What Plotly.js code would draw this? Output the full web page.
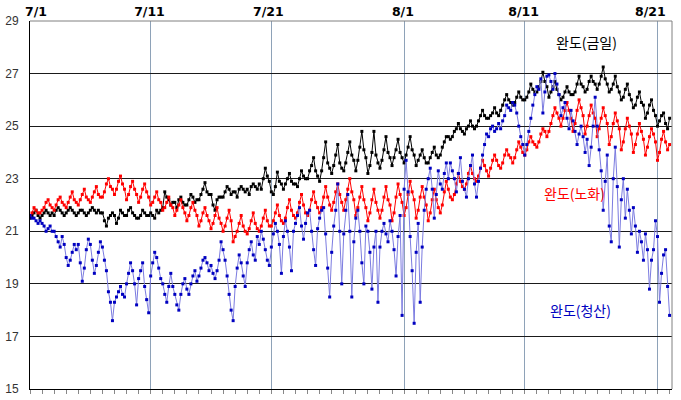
<!DOCTYPE html>
<html>
<head>
<meta charset="utf-8">
<script src="https://cdn.plot.ly/plotly-3.0.1.min.js"></script>
<style>html,body{margin:0;padding:0;background:#fff;}#chart{width:681px;height:400px;}</style>
</head>
<body>
<div id="chart"></div>
<script>
// Sampling: every 4 hours from 7/1 00:00 (x in days from 7/1)
const stepDays = 1 / 6;

const seriesNames = ['완도(금일)', '완도(노화)', '완도(청산)'];

const geumil = [
21.5,21.6,21.7,21.8,21.6,21.5, 21.6,21.7,21.8,21.7,21.6,21.7,
21.6,21.8,21.9,21.8,21.7,21.6, 21.7,21.8,21.9,21.8,21.7,21.6,
21.7,21.8,21.8,21.7,21.6,21.7, 21.8,21.9,21.8,21.7,21.8,21.7,
21.7,21.4,21.2,21.5,21.6,21.7, 21.6,21.3,21.5,21.8,21.7,21.6,
21.6,21.8,21.9,21.7,21.6,21.5, 21.5,21.6,21.8,21.7,21.6,21.6,
21.7,21.6,21.5,21.8,21.7,21.8, 21.9,22.5,22.3,22.2,22.0,22.1,
22.1,21.9,22.2,22.3,22.1,22.0, 22.0,22.2,22.4,22.3,22.1,22.2,
22.2,22.4,22.6,22.85,22.5,22.4, 22.4,22.0,21.8,22.2,22.3,22.3,
22.3,22.5,22.7,22.6,22.4,22.5, 22.5,22.3,22.6,22.7,22.6,22.5,
22.6,22.4,22.7,22.8,22.7,22.6, 22.8,22.6,23.0,23.4,23.1,22.9,
22.5,22.4,22.7,23.25,22.9,22.8, 22.6,22.8,23.0,23.2,22.9,22.8,
22.8,22.7,23.0,23.3,23.1,23.0, 23.0,23.3,23.5,23.8,23.3,23.1,
22.9,23.3,23.8,24.4,23.6,23.4, 23.2,23.5,23.9,24.3,23.6,23.4,
23.3,23.6,24.0,24.4,23.9,23.7, 23.3,23.7,24.2,24.8,24.1,23.8,
23.2,23.5,24.0,24.8,23.9,23.6, 23.4,23.7,24.1,24.6,24.0,23.8,
23.5,23.8,24.1,24.5,24.0,23.8, 23.6,23.9,24.2,24.6,24.1,23.9,
23.5,23.7,23.9,24.1,23.8,23.6, 23.6,23.8,24.0,24.2,23.9,23.8,
23.9,24.2,24.4,24.6,24.6,24.5, 24.6,24.8,24.9,25.1,24.9,24.8,
24.7,24.9,25.0,25.2,25.0,24.9, 25.0,25.2,25.4,25.6,25.4,25.3,
25.3,25.4,25.5,25.7,25.5,25.4, 25.6,25.8,26.0,26.2,26.0,25.9,
25.8,25.9,26.1,26.3,26.1,26.0, 26.0,26.1,26.3,26.6,26.4,26.3,
26.3,26.5,26.7,27.05,26.7,26.5, 26.1,26.3,26.5,26.7,26.4,26.2,
26.0,26.1,26.3,26.5,26.3,26.2, 26.2,26.3,26.6,26.9,26.6,26.5,
26.3,26.4,26.7,26.9,26.7,26.6, 26.4,26.6,26.9,27.25,26.8,26.6,
26.3,26.4,26.6,26.9,26.5,26.3, 26.0,26.1,26.4,26.6,26.2,26.0,
25.7,25.8,26.1,26.3,25.9,25.8, 25.3,25.5,25.8,26.0,25.6,25.4,
25.0,25.2,25.4,25.5,25.1,24.9,
25.3
];

const nohwa = [
21.6,21.7,21.9,21.8,21.7,21.7, 21.8,21.9,22.1,22.2,22.0,21.9,
21.8,22.0,22.2,22.3,22.1,22.0, 21.9,22.1,22.3,22.5,22.2,22.1,
22.0,22.2,22.4,22.6,22.3,22.2, 22.1,22.3,22.5,22.7,22.4,22.3,
22.3,22.5,22.8,23.0,22.7,22.6, 22.4,22.6,22.9,23.1,22.8,22.6,
22.2,22.4,22.7,22.9,22.6,22.4, 22.1,22.3,22.6,22.8,22.5,22.3,
22.0,22.1,22.3,22.5,22.2,22.1, 21.8,21.9,22.1,22.3,22.0,21.9,
21.6,21.8,22.0,22.2,21.9,21.7, 21.4,21.6,21.9,22.1,21.8,21.6,
21.2,21.4,21.7,21.9,21.6,21.4, 21.1,21.3,21.6,21.9,21.5,21.3,
21.0,21.2,21.5,21.8,21.4,20.6, 20.8,21.0,21.3,21.6,21.2,21.0,
20.9,21.1,21.4,21.7,21.3,21.1, 21.0,21.2,21.5,21.8,21.4,21.2,
21.2,21.4,21.7,22.0,21.6,21.4, 21.3,21.5,21.9,22.2,21.8,21.6,
21.5,21.7,22.1,22.4,22.0,21.7, 21.6,21.8,22.2,22.5,22.1,21.9,
21.7,21.9,22.3,22.7,22.3,22.0, 21.8,22.1,22.5,22.8,22.4,22.1,
21.8,22.2,22.6,23.0,22.5,22.2, 21.6,21.9,22.3,22.7,22.2,21.9,
21.4,21.7,22.2,22.6,22.1,21.8, 21.5,21.8,22.3,22.7,22.2,22.0,
21.4,21.7,22.3,22.8,22.4,22.1, 21.6,21.9,22.4,22.9,22.5,22.2,
21.5,21.8,22.3,22.7,22.3,22.0, 21.4,21.7,22.2,22.6,22.2,21.9,
21.7,22.0,22.5,22.9,22.6,22.3, 22.2,22.4,22.8,23.2,22.9,22.7,
22.6,22.8,23.2,23.5,23.2,23.0, 22.9,23.1,23.4,23.7,23.5,23.3,
23.1,23.4,23.7,23.9,23.7,23.5, 23.4,23.6,23.9,24.1,23.9,23.8,
23.6,23.8,24.1,24.4,24.2,24.0, 23.9,24.1,24.4,24.6,24.4,24.3,
24.2,24.4,24.7,24.9,24.8,24.6, 24.8,25.1,25.4,25.7,25.5,25.3,
25.0,25.3,25.6,25.9,25.6,25.3, 24.8,25.1,25.6,26.0,25.7,25.4,
24.7,25.0,25.4,25.8,25.5,25.3, 24.6,24.9,25.3,25.7,25.4,25.1,
24.3,24.6,25.1,25.5,25.2,24.9, 24.1,24.4,24.9,25.3,25.0,24.7,
24.0,24.3,24.7,25.1,24.8,24.5, 23.9,24.2,24.6,24.9,24.7,24.4,
23.7,24.0,24.5,24.8,24.4,24.1,
24.3
];

const cheongsan = [
21.6,21.5,21.5,21.4,21.3,21.4, 21.3,21.2,21.0,21.1,21.2,21.0,
21.0,20.8,20.6,20.4,20.8,20.5, 20.0,19.7,19.9,20.2,20.5,20.3,
20.5,19.8,19.1,19.6,20.3,20.7, 20.5,19.9,19.4,19.7,20.2,20.6,
20.4,19.9,19.5,18.7,18.3,17.6, 18.3,18.5,18.7,18.9,18.6,18.5,
19.0,19.4,19.8,19.5,19.0,18.2, 19.2,19.5,19.8,18.9,18.4,17.9,
19.3,19.8,20.2,20.0,19.6,19.2, 19.0,18.6,18.3,18.9,19.4,18.9,
18.6,18.2,18.0,18.6,19.0,19.2, 18.8,18.6,19.0,19.3,19.5,19.1,
19.3,19.6,19.9,20.0,19.8,19.5, 19.7,19.4,19.2,19.5,19.9,20.6,
20.3,19.9,19.3,18.6,18.0,17.6, 18.9,19.6,20.1,19.8,19.3,18.9,
19.8,20.3,20.6,20.1,19.9,20.8, 20.5,21.0,20.7,20.3,19.9,19.7,
20.4,20.9,21.3,21.0,20.5,19.4, 20.8,21.4,21.0,20.4,19.5,21.0,
21.3,21.6,21.9,21.2,20.7,21.3, 21.7,21.8,21.0,20.3,19.7,21.1,
21.5,21.8,21.9,20.9,19.6,18.5, 20.2,21.2,21.8,22.8,21.0,19.0,
20.9,21.8,22.4,21.0,18.5,20.6, 21.5,21.8,21.0,19.8,19.0,21.2,
21.0,20.2,18.8,20.4,21.0,18.3, 20.4,21.0,21.3,20.9,20.6,21.4,
21.0,20.3,19.3,20.8,21.6,17.8, 22.6,23.7,22.5,20.8,19.5,17.5,
20.2,21.3,18.3,20.4,21.8,22.6, 23.0,23.4,22.6,21.5,22.4,23.3,
22.8,22.6,23.2,23.6,23.0,23.6, 23.3,23.0,22.5,23.2,23.8,22.9,
22.6,22.3,23.0,23.5,23.9,22.8, 22.3,22.9,23.4,23.9,24.3,24.7,
24.6,24.9,25.0,24.8,24.9,25.1, 24.9,25.2,25.4,25.8,25.7,25.6,
25.9,25.8,25.5,25.0,24.6,24.3, 23.9,24.3,24.8,25.3,25.8,26.2,
26.5,26.4,26.8,25.5,26.3,26.9, 26.95,26.7,26.4,27.0,26.6,26.2,
25.4,25.7,25.9,25.3,24.9,25.6, 25.2,24.8,24.3,24.7,25.0,24.6,
24.0,24.5,23.5,24.2,25.0,26.1, 25.0,24.1,23.3,21.8,22.9,23.9,
21.2,20.6,23.0,24.2,22.7,20.4, 22.2,23.0,21.5,22.6,21.8,20.9,
21.9,21.2,20.2,21.0,20.6,19.9, 20.9,20.3,18.8,19.9,20.3,21.4,
20.8,18.3,19.4,20.1,20.3,18.9,
17.8
];

const tickLabels = ['7/1', '7/11', '7/21', '8/1', '8/11', '8/21'];
const tickLabelDays = [0.5, 9.9, 19.75, 30.9, 40.9, 51.4];
const gridDays = [10, 20, 31, 41, 52];

const xs = geumil.map((_, i) => i * stepDays);

const traces = [
  {x: xs, y: geumil, name: seriesNames[0], type: 'scatter', mode: 'lines+markers',
   line: {color: '#000000', width: 1}, marker: {color: '#000000', size: 3, symbol: 'square'},
   xaxis: 'x', yaxis: 'y'},
  {x: xs, y: nohwa, name: seriesNames[1], type: 'scatter', mode: 'lines+markers',
   line: {color: '#FF0000', width: 1}, marker: {color: '#FF0000', size: 3, symbol: 'square'},
   xaxis: 'x', yaxis: 'y'},
  {x: xs, y: cheongsan, name: seriesNames[2], type: 'scatter', mode: 'lines+markers',
   line: {color: '#7B7BE0', width: 1}, marker: {color: '#0000C0', size: 3, symbol: 'square'},
   xaxis: 'x2', yaxis: 'y'}
];

const layout = {
  width: 681, height: 400,
  margin: {l: 30, r: 9, t: 21, b: 11, pad: 0},
  paper_bgcolor: '#ffffff', plot_bgcolor: '#ffffff',
  showlegend: false,
  xaxis: {
    range: [0, 53.2], tickmode: 'array', tickvals: gridDays, showticklabels: false,
    showgrid: true, gridcolor: '#8EA2B8', gridwidth: 1, zeroline: false,
    showline: true, linecolor: '#000000', linewidth: 1,
    ticks: 'outside', ticklen: 4, tickcolor: '#888888',
    minor: {tickmode: 'linear', tick0: 0, dtick: 1, ticks: 'outside', ticklen: 4, tickcolor: '#888888', showgrid: false}
  },
  xaxis2: {
    overlaying: 'x', matches: 'x', side: 'top', anchor: 'y',
    tickmode: 'array', tickvals: tickLabelDays, ticktext: tickLabels,
    showgrid: false, zeroline: false, showline: false, ticks: '',
    ticklabelstandoff: 2,
    tickfont: {family: 'DejaVu Sans', size: 12.5, color: '#000000', weight: 'bold'}
  },
  yaxis: {
    range: [15, 29], tickmode: 'linear', tick0: 15, dtick: 2,
    showgrid: true, gridcolor: '#1a1a1a', gridwidth: 1, zeroline: false,
    showline: true, linecolor: '#000000', linewidth: 1, ticks: '',
    ticklabelstandoff: 8,
    tickfont: {family: 'Liberation Sans', size: 12, color: '#333333'}
  },
  shapes: [
    {type: 'line', xref: 'paper', yref: 'paper', x0: 0, x1: 1, y0: 1, y1: 1, line: {color: '#808080', width: 1}},
    {type: 'line', xref: 'paper', yref: 'paper', x0: 1, x1: 1, y0: 0, y1: 1, line: {color: '#808080', width: 1}}
  ],
  annotations: [
    {x: 46.1, y: 28.22, xref: 'x', yref: 'y', text: seriesNames[0], showarrow: false,
     font: {family: 'Noto Sans CJK KR', size: 14, color: '#000000'}},
    {x: 45.15, y: 22.46, xref: 'x', yref: 'y', text: seriesNames[1], showarrow: false,
     font: {family: 'Noto Sans CJK KR', size: 14, color: '#FF0000'}},
    {x: 45.6, y: 18.0, xref: 'x', yref: 'y', text: seriesNames[2], showarrow: false,
     font: {family: 'Noto Sans CJK KR', size: 14, color: '#0000C0'}}
  ]
};

Plotly.newPlot('chart', traces, layout, {staticPlot: true, displayModeBar: false});
</script>
</body>
</html>
